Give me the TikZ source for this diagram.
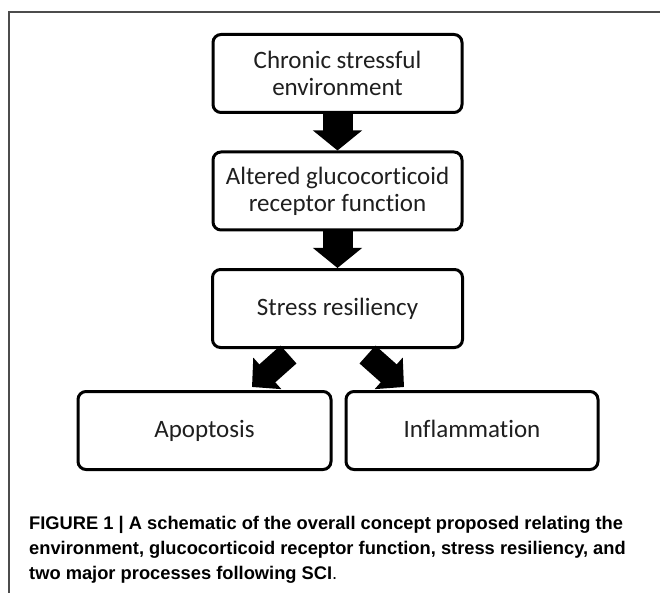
\documentclass[tikz,border=0pt]{standalone}
\usepackage{fontspec}
\setmainfont{Carlito}[Ligatures=NoCommon]
\newfontfamily\capfont{Liberation Sans}
\usetikzlibrary{arrows.meta,calc}
\definecolor{txt}{rgb}{0.12,0.12,0.12}
\definecolor{framec}{rgb}{0.3,0.3,0.3}
\begin{document}
\begin{tikzpicture}[x=1pt,y=-1pt,
  box/.style={draw=black, line width=3pt, rounded corners=8pt, inner sep=0pt,
    minimum height=78pt, align=center, text=txt,
    font=\fontsize{25}{27}\selectfont},
  downarrow/.style={line width=30pt, -{Triangle[width=48pt,length=20pt]}},
  diagarrow/.style={line width=24pt, -{Triangle[width=41pt,length=20.5pt]}},
  captxt/.style={anchor=base west, inner sep=0pt, text=black,
    font=\capfont\fontsize{18.3}{25}\selectfont}]
\useasboundingbox (0,0) rectangle (660,593);
\fill[white] (0,0) rectangle (660,593);
% frame
\draw[framec, line width=1.2pt] (660,12) -- (9,12) -- (9,593);
% boxes
\node[box, minimum width=249pt] (b1) at (337.5,73.5) {Chronic stressful\\environment};
\node[box, minimum width=249pt] (b2) at (337.5,191) {Altered glucocorticoid\\receptor function};
\node[box, minimum width=250pt] (b3) at (337.5,308.5) {\vphantom{Apy}Stress resiliency};
\node[box, minimum width=253pt] (b4) at (204.5,430.5) {\vphantom{Apy}Apoptosis};
\node[box, minimum width=252pt] (b5) at (472,430.5) {\vphantom{Apy}Inflammation};
% arrows
\draw[downarrow] (b1.south) -- (b2.north);
\draw[downarrow] (b2.south) -- (b3.north);
\draw[diagarrow] ($(b3.south)+(-49,5.5)$) -- ($(b4.north)+(47.5,-3)$);
\draw[diagarrow] ($(b3.south)+(30,5.5)$) -- ($(b5.north)+(-68,-3)$);
% caption
\node[captxt] (c1) at (29,529) {\bfseries FIGURE 1 | A schematic of the overall concept proposed relating the};
\node[captxt] (c2) at (29,554) {\bfseries environment, glucocorticoid receptor function, stress resiliency, and};
\node[captxt] (c3) at (29,579) {\textbf{two major processes following SCI}.};
\end{tikzpicture}
\end{document}
